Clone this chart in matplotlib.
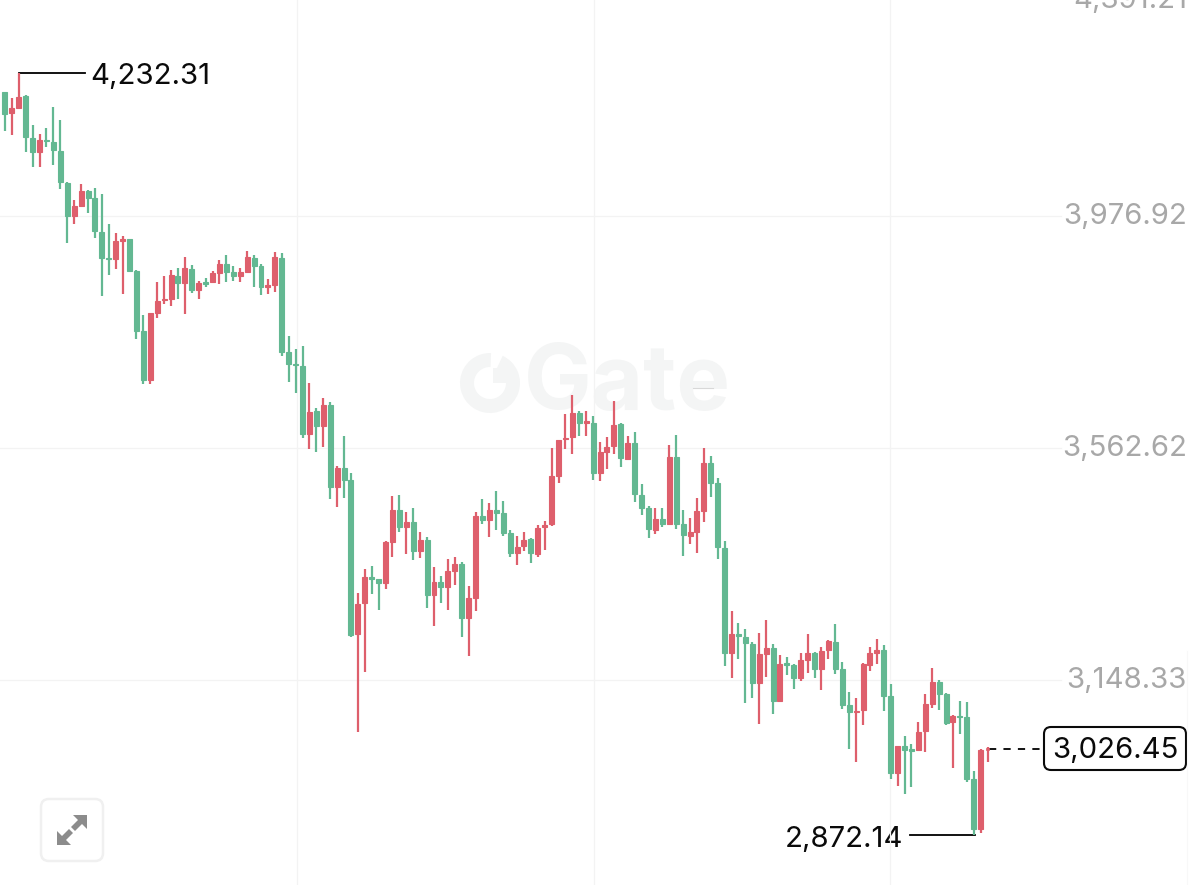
import matplotlib
matplotlib.use("Agg")
import matplotlib.pyplot as plt
from matplotlib.patches import FancyBboxPatch, Wedge, Rectangle, Polygon

plt.rcParams['font.family'] = ['Inter', 'DejaVu Sans']

opens = [4198,4161,4170,4191,4116,4091,4113,4109,4093,4036,3977,3995,4022,4009,3948,3902,3900,3932,3936,3879,
         3772,3684,3804,3827,3829,3870,3857,3882,3845,3859,3859,3875,3891,3877,3870,3877,3902,3888,3850,3854,
         3902,3734,3713,3709,3588,3629,3602,3639,3493,3527,3505,3230,3286,3332,3329,3321,3395,3452,3421,3430,
         3379,3398,3300,3323,3314,3343,3355,3259,3295,3441,3434,3452,3447,3411,3375,3388,3400,3373,3421,3427,
         3513,3579,3582,3625,3607,3607,3518,3555,3566,3605,3543,3571,3479,3455,3416,3436,3427,3546,3427,3405,
         3413,3450,3536,3500,3384,3197,3230,3225,3213,3143,3195,3205,3111,3179,3175,3152,3184,3197,3168,3202,
         3216,3168,3104,3091,3095,3175,3197,3202,3120,2982,3030,3025,3023,3057,3105,3145,3123,3073,3084,3082,
         2972,2882,3023]
highs = [4199,4188,4232.31,4193,4139,4123,4134,4172,4148,4038,4005,4034,4023,4027,4016,3963,3947,3941,3936,3881,
         3800,3804,3859,3870,3881,3884,3904,3889,3861,3866,3879,3898,3907,3888,3884,3914,3907,3891,3864,3913,
         3911,3763,3739,3745,3679,3634,3652,3645,3531,3584,3518,3304,3346,3352,3329,3396,3477,3479,3448,3455,
         3413,3404,3350,3334,3364,3368,3359,3316,3448,3471,3464,3486,3468,3416,3405,3413,3402,3425,3432,3563,
         3577,3623,3657,3629,3629,3620,3573,3582,3647,3607,3584,3591,3498,3459,3455,3455,3568,3586,3452,3438,
         3473,3563,3548,3509,3396,3272,3250,3239,3216,3232,3255,3213,3193,3189,3177,3197,3230,3198,3207,3220,
         3248,3180,3127,3116,3179,3207,3222,3211,3141,3030,3048,3034,3073,3123,3170,3148,3125,3086,3111,3109,
         2986,3025,3029]
lows = [4129,4122,4170,4091,4064,4064,4100,4068,4025,3929,3963,3993,3982,3938,3834,3872,3882,3838,3877,3757,
        3677,3677,3795,3820,3816,3829,3802,3839,3829,3850,3857,3855,3859,3861,3859,3875,3850,3836,3838,3841,
        3727,3680,3661,3581,3561,3555,3564,3472,3457,3473,3225,3055,3163,3302,3273,3311,3368,3413,3373,3363,
        3366,3277,3245,3286,3273,3318,3225,3191,3272,3427,3404,3416,3405,3368,3354,3379,3357,3368,3380,3423,
        3500,3561,3552,3584,3584,3505,3504,3525,3552,3529,3541,3466,3443,3402,3409,3421,3427,3418,3370,3391,
        3375,3430,3475,3364,3173,3152,3186,3107,3116,3070,3154,3088,3109,3157,3132,3147,3161,3152,3130,3186,
        3159,3097,3025,3002,3068,3164,3177,3093,2972,2959,2945,2957,3023,3020,3098,3095,3068,2991,3052,2966,
        2872.14,2875,3002]
closes = [4159,4170,4189,4118,4091,4113,4111,4095,4038,3977,3995,4022,4009,3950,3902,3900,3932,3936,3879,3772,
          3684,3804,3825,3829,3872,3857,3884,3845,3857,3855,3875,3891,3877,3870,3877,3904,3888,3850,3854,3904,
          3734,3713,3711,3588,3627,3602,3639,3493,3527,3505,3229,3284,3332,3329,3321,3395,3452,3421,3430,3379,
          3398,3300,3323,3314,3343,3355,3259,3295,3441,3434,3452,3447,3411,3375,3386,3398,3375,3420,3425,3513,
          3577,3580,3625,3607,3611,3518,3555,3564,3604,3545,3571,3480,3455,3418,3436,3427,3546,3427,3407,3413,
          3450,3536,3500,3386,3197,3230,3227,3214,3143,3195,3205,3111,3177,3175,3152,3184,3197,3168,3200,3218,
          3168,3104,3091,3093,3177,3197,3202,3120,2982,3030,3023,3021,3055,3105,3145,3123,3071,3084,3082,2972,
          2882,3023,3026.45]

grid_prices = [3976.92, 3562.62, 3148.33]
grid_labels = ['3,976.92', '3,562.62', '3,148.33']
top_label = '4,391.21'
grid_times = [42.2, 85.1, 127.9]
high_label, low_label, last_label = '4,232.31', '2,872.14', '3,026.45'
high_price, low_price, last_price = 4232.31, 2872.14, 3026.45

GREEN, RED = '#63b892', '#de5f6c'
GRID = '#f3f3f3'
TXT = '#a8a8a8'

fig = plt.figure(figsize=(12, 8.85), dpi=100, facecolor='white')
ax = fig.add_axes([0, 0, 1, 1])
ax.set_xlim(-0.72, 172.7)
ax.set_ylim(2782.2, 4362.65)
ax.axis('off')

for p in grid_prices:
    ax.plot([-0.72, 152.6], [p, p], color=GRID, lw=0.9, zorder=1)
for t in grid_times:
    ax.plot([t, t], [2782.2, 4362.65], color=GRID, lw=0.9, zorder=1)
ax.plot([170.8, 170.8], [2782.2, 3200], color='#f8f8f8', lw=0.8, zorder=1)

idx = list(range(len(opens)))
cols = [RED if c >= o else GREEN for o, c in zip(opens, closes)]
ax.vlines(idx, lows, highs, colors=cols, lw=1.6, zorder=3)
bottoms = [min(o, c) for o, c in zip(opens, closes)]
heights = [abs(c - o) for o, c in zip(opens, closes)]
ax.bar(idx[:-1], heights[:-1], bottom=bottoms[:-1], width=0.72, color=cols[:-1],
       edgecolor=cols[:-1], linewidth=0.8, zorder=4)
ax.bar(idx[-1:], heights[-1:], bottom=bottoms[-1:], width=0.5, color=cols[-1:],
       edgecolor=cols[-1:], linewidth=0.5, zorder=4)

# pixel overlay for labels and chrome
ov = fig.add_axes([0, 0, 1, 1])
ov.set_xlim(0, 1200)
ov.set_ylim(885, 0)
ov.axis('off')
ov.patch.set_alpha(0)

def py(price):
    return 216 + (3976.92 - price) * 232 / 414.29

FS = 21.1
for p, s in zip(grid_prices, grid_labels):
    ov.text(1187, py(p) + 0.5, s, ha='right', va='center', fontsize=FS, color=TXT)
ov.text(1187, 0.5, top_label, ha='right', va='center', fontsize=FS, color=TXT)

ov.plot([19, 85], [py(high_price)] * 2, color='black', lw=1.3)
ov.text(90, py(high_price) + 3.5, high_label, ha='left', va='center', fontsize=FS, color='#0a0a0a')
ov.plot([910, 975], [py(low_price)] * 2, color='black', lw=1.3)
ov.text(903.5, py(low_price) + 4.5, low_label, ha='right', va='center', fontsize=FS, color='#0a0a0a')

ov.plot([989, 1043], [py(last_price) + 0.5] * 2, color='black', lw=1.3, dashes=(4, 4))
ov.add_patch(FancyBboxPatch((1050, 733), 130, 31, boxstyle='round,pad=6,rounding_size=7',
                            fc='white', ec='#0a0a0a', lw=1.5, zorder=5))
ov.text(1115.5, 750.5, last_label, ha='center', va='center', fontsize=FS, color='#0a0a0a', zorder=6)

# watermark
WM = '#f4f5f5'
ov.add_patch(Wedge((490, 383), 30, -65, 272, width=14, fc=WM, ec='none', zorder=0))
ov.add_patch(Rectangle((493, 368), 15, 15, fc=WM, ec='none', zorder=0))
ov.text(627.5, 385, 'Gate', ha='center', va='center', fontsize=65, fontweight='bold', color=WM, zorder=0)
ov.plot([693, 713], [388, 388], color='#d8d8d8', lw=0.8, zorder=0)
ov.set_zorder(2)
ax.set_zorder(3)
ax.patch.set_alpha(0)

# expand button
btn = fig.add_axes([0, 0, 1, 1])
btn.set_xlim(0, 1200)
btn.set_ylim(885, 0)
btn.axis('off')
btn.patch.set_alpha(0)
btn.set_zorder(4)
btn.add_patch(FancyBboxPatch((47, 805), 50, 50, boxstyle='round,pad=6,rounding_size=8',
                             fc='white', ec='#f0f0f0', lw=1.8))
G = '#8c8c8c'
btn.add_patch(Polygon([(87, 815), (87, 829), (82, 824), (75, 831), (71, 827), (78, 820), (73, 815)], fc=G, ec='none'))
btn.add_patch(Polygon([(57, 845), (57, 831), (62, 836), (69, 829), (73, 833), (66, 840), (71, 845)], fc=G, ec='none'))

fig.savefig('out.png', dpi=100)
